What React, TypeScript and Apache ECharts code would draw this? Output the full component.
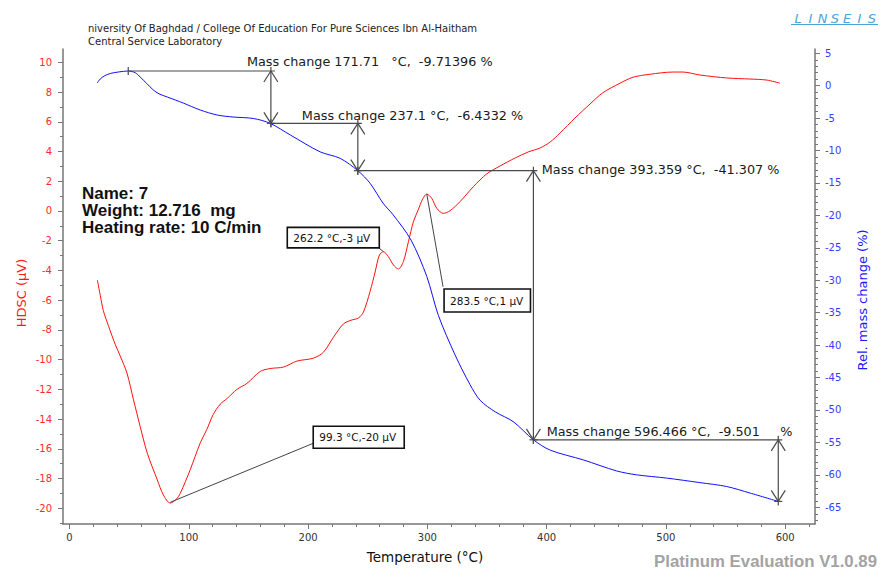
import React, { useEffect, useRef } from "react";
import * as echarts from "echarts";

// ---------- DATA ----------
const dscT = [23.3, 25.8, 28.3, 32.5, 38.4, 42.5, 48.1, 53.6, 59.2, 65.2, 73.6, 78.6, 84.4, 89.4, 92.8, 101.2, 109.6, 115.1, 120.4, 126.3, 132.3, 140.3, 148.7, 159.8, 168.2, 179.4, 190.6, 204.5, 212.9, 221.2, 229.6, 236, 242.2, 246.4, 252, 256.2, 259.8, 263.2, 267.3, 271.5, 275.7, 279.9, 284.1, 288.3, 292.3, 296, 299.5, 303.7, 307.9, 313.4, 319, 327.4, 338.6, 349.8, 361, 373.6, 384.5, 394.5, 402.9, 411.3, 423.8, 436.4, 447, 461.5, 472.4, 486.6, 505.9, 514.3, 528.5, 551.1, 570.4, 584.6, 595.5];
const dscV = [-4.64, -5.7, -6.7, -7.7, -9.0, -9.76, -10.9, -12.7, -14.5, -16.3, -18.1, -19.1, -19.65, -19.4, -19.0, -17.4, -15.6, -14.7, -13.7, -13.0, -12.6, -12.0, -11.6, -10.8, -10.6, -10.5, -10.1, -9.9, -9.5, -8.5, -7.6, -7.35, -7.2, -6.8, -5.4, -4.1, -2.96, -2.74, -3.07, -3.63, -3.9, -3.4, -2.07, -0.72, 0.07, 0.8, 1.14, 0.85, 0.18, -0.16, 0.02, 0.63, 1.64, 2.5, 3.03, 3.57, 3.97, 4.24, 4.64, 5.25, 6.26, 7.2, 7.95, 8.6, 9.0, 9.2, 9.35, 9.35, 9.15, 8.95, 8.88, 8.81, 8.6];

const massT = [23.2, 25.7, 29.1, 34.1, 40.8, 49.2, 55.1, 59.2, 64.7, 70.2, 75, 81.9, 95.3, 109.6, 123.8, 137.2, 154, 168.2, 185.1, 210.1, 226.9, 241.7, 252, 262.8, 271.3, 286.3, 299.5, 309.2, 323.2, 335.8, 344.2, 357, 372, 388.9, 403.1, 430.8, 458.7, 475.5, 500.6, 528.5, 550.9, 570.4, 594.2];
const massV = [0.42, 1.03, 1.5, 1.88, 2.11, 2.27, 2.0, 1.34, 0.35, -0.66, -1.25, -1.74, -2.67, -3.75, -4.52, -4.83, -5.05, -5.8, -7.6, -10.2, -11.2, -13.1, -15.05, -18.1, -19.9, -23.8, -29.4, -35.4, -41.5, -46.1, -48.5, -50.3, -51.8, -54.6, -56.2, -57.7, -59.4, -60.0, -60.5, -61.2, -61.8, -62.8, -64.1];

// mass-change step points (temperature, rel. mass)
const stepT = [49.2, 168.8, 241.7, 388.9, 594.2];
const stepM = [2.27, -5.8, -13.1, -54.6, -64.1];
const stepLabels = [
  "Mass change 171.71   °C,  -9.71396 %",
  "Mass change 237.1 °C,  -6.4332 %",
  "Mass change 393.359 °C,  -41.307 %",
  "Mass change 596.466 °C,  -9.501     %",
];

// DSC peak callouts
const peakT = [84.4, 263.2, 299.5];
const peakV = [-19.6, -2.74, 1.14];
const peakLabels = ["99.3 °C,-20 µV", "262.2 °C,-3 µV", "283.5 °C,1 µV"];

const sampleInfo = ["Name: 7", "Weight: 12.716  mg", "Heating rate: 10 C/min"];
const headerLines = [
  "niversity Of Baghdad / College Of Education For Pure Sciences Ibn Al-Haitham",
  "Central Service Laboratory",
];

const xMajorTicks = [0, 100, 200, 300, 400, 500, 600];
const xMinorTicks = [20, 40, 60, 80, 120, 140, 160, 180, 220, 240, 260, 280, 320, 340, 360, 380, 420, 440, 460, 480, 520, 540, 560, 580, 620];
const hdscMajorTicks = [-20, -18, -16, -14, -12, -10, -8, -6, -4, -2, 0, 2, 4, 6, 8, 10];
const hdscMinorTicks = [-21, -19, -17, -15, -13, -11, -9, -7, -5, -3, -1, 1, 3, 5, 7, 9];
const massMajorTicks = [-65, -60, -55, -50, -45, -40, -35, -30, -25, -20, -15, -10, -5, 0, 5];
const massMinorTicks = [-67, -66, -64, -63, -62, -61, -59, -58, -57, -56, -54, -53, -52, -51, -49, -48, -47, -46, -44, -43, -42, -41, -39, -38, -37, -36, -34, -33, -32, -31, -29, -28, -27, -26, -24, -23, -22, -21, -19, -18, -17, -16, -14, -13, -12, -11, -9, -8, -7, -6, -4, -3, -2, -1, 1, 2, 3, 4];

const xTitle = "Temperature (°C)";
const yLeftTitle = "HDSC (µV)";
const yRightTitle = "Rel. mass change (%)";
const footer = "Platinum Evaluation V1.0.89";
const logo = "LINSEIS";

// ---------- LAYOUT ----------
const X_MIN = -5.5, X_MAX = 625;
const L_MIN = -21.06, L_MAX = 10.9;
const R_MIN = -67.58, R_MAX = 5.66;
const FONT = "DejaVu Sans";
const AXIS_GRAY = "#767676";

// label offsets relative to the top of each vertical arrow (px)
const stepLabelOffsets = [[-24, -9], [-56, -8.3], [8.4, -0.7], [-231.6, -8.3]];
// callout boxes relative to anchor (px)
const calloutLayout = [
  { bx: 143, by: -76, bw: 91, bh: 22, lx: 143, ly: -59 },
  { bx: -96.2, by: -24.3, bw: 92, bh: 20.5, lx: -5.2, ly: -4.3 },
  { bx: 17.3, by: 95, bw: 86.4, bh: 23, lx: 16.3, ly: 92.7 },
];

export default function App() {
  const ref = useRef<HTMLDivElement>(null);

  useEffect(() => {
    if (!ref.current) return;
    const chart = echarts.init(ref.current, undefined, { renderer: "svg" });

    const dscData = dscT.map((t, i) => [t, dscV[i]]);
    const massData = massT.map((t, i) => [t, massV[i]]);
    const stepData = stepT.slice(1).map((t, i) => [stepT[i], stepM[i], t, stepM[i + 1], i]);
    const peakData = peakT.map((t, i) => [t, peakV[i], i]);

    const lineEl = (p: number[], q: number[], stroke: string, w: number) => ({
      type: "line",
      shape: { x1: p[0], y1: p[1], x2: q[0], y2: q[1] },
      style: { stroke, lineWidth: w },
    });

    const baseX = {
      type: "value",
      min: X_MIN,
      max: X_MAX,
      splitLine: { show: false },
      position: "bottom",
    };
    const axLine = (show: boolean) => ({
      show,
      onZero: false,
      lineStyle: { color: AXIS_GRAY, width: 1.5 },
    });

    const option: any = {
      animation: false,
      backgroundColor: "#ffffff",
      grid: { left: 63, right: 66, top: 49, bottom: 47, containLabel: false },
      xAxis: [
        {
          ...baseX,
          axisLine: axLine(true),
          axisTick: { show: true, customValues: xMajorTicks, length: 5, lineStyle: { color: AXIS_GRAY } },
          axisLabel: { customValues: xMajorTicks, color: "#333", fontSize: 10, fontFamily: FONT, margin: 8 },
        },
        {
          ...baseX,
          axisLine: axLine(false),
          axisTick: { show: true, customValues: xMinorTicks, length: 3, lineStyle: { color: AXIS_GRAY } },
          axisLabel: { show: false },
        },
      ],
      yAxis: [
        {
          type: "value", position: "left", min: L_MIN, max: L_MAX, splitLine: { show: false },
          axisLine: axLine(true),
          axisTick: { show: true, customValues: hdscMajorTicks, length: 5, lineStyle: { color: AXIS_GRAY } },
          axisLabel: { customValues: hdscMajorTicks, color: "#ff2b2b", fontSize: 10, fontFamily: FONT, margin: 11 },
        },
        {
          type: "value", position: "right", min: R_MIN, max: R_MAX, splitLine: { show: false },
          axisLine: axLine(true),
          axisTick: { show: true, customValues: massMajorTicks, length: 5, lineStyle: { color: AXIS_GRAY } },
          axisLabel: { customValues: massMajorTicks, color: "#3a3aff", fontSize: 10, fontFamily: FONT, margin: 10 },
        },
        {
          type: "value", position: "left", min: L_MIN, max: L_MAX, splitLine: { show: false },
          axisLine: axLine(false),
          axisTick: { show: true, customValues: hdscMinorTicks, length: 3, lineStyle: { color: AXIS_GRAY } },
          axisLabel: { show: false },
        },
        {
          type: "value", position: "right", min: R_MIN, max: R_MAX, splitLine: { show: false },
          axisLine: axLine(false),
          axisTick: { show: true, customValues: massMinorTicks, length: 3, lineStyle: { color: AXIS_GRAY } },
          axisLabel: { show: false },
        },
      ],
      series: [
        {
          name: "HDSC",
          type: "line",
          xAxisIndex: 0,
          yAxisIndex: 0,
          data: dscData,
          smooth: 0.3,
          showSymbol: false,
          lineStyle: { color: "#ff1010", width: 1 },
          z: 2,
        },
        {
          name: "Rel. mass change",
          type: "line",
          xAxisIndex: 0,
          yAxisIndex: 1,
          data: massData,
          smooth: 0.3,
          showSymbol: false,
          lineStyle: { color: "#1010ff", width: 1 },
          z: 3,
        },
        {
          name: "mass steps",
          type: "custom",
          xAxisIndex: 0,
          yAxisIndex: 1,
          data: stepData,
          encode: { x: [0, 2], y: [1, 3] },
          clip: false,
          z: 5,
          renderItem: (params: any, api: any) => {
            const idx = api.value(4);
            const a = api.coord([api.value(0), api.value(1)]);
            const top = api.coord([api.value(2), api.value(1)]);
            const bot = api.coord([api.value(2), api.value(3)]);
            const c = "#4a4a4a";
            const w = 1.2;
            const off = stepLabelOffsets[idx];
            return {
              type: "group",
              children: [
                lineEl(a, [top[0] + 4, top[1]], c, w),
                lineEl([a[0], a[1] - 4], [a[0], a[1] + 4], c, w),
                lineEl([top[0], top[1] - 4], [bot[0], bot[1] + 4], c, w),
                lineEl(top, [top[0] - 7, top[1] + 11], c, w),
                lineEl(top, [top[0] + 7, top[1] + 11], c, w),
                lineEl(bot, [bot[0] - 7, bot[1] - 11], c, w),
                lineEl(bot, [bot[0] + 7, bot[1] - 11], c, w),
                lineEl([bot[0] - 4, bot[1]], [bot[0] + 4, bot[1]], c, w),
                {
                  type: "text",
                  x: top[0] + off[0],
                  y: top[1] + off[1],
                  style: {
                    text: stepLabels[idx],
                    fill: "#1a1a1a",
                    fontSize: 12.8,
                    fontFamily: FONT,
                    align: "left",
                    verticalAlign: "middle",
                  },
                },
              ],
            };
          },
        },
        {
          name: "peaks",
          type: "custom",
          xAxisIndex: 0,
          yAxisIndex: 0,
          data: peakData,
          encode: { x: 0, y: 1 },
          clip: false,
          z: 6,
          renderItem: (params: any, api: any) => {
            const idx = api.value(2);
            const p = api.coord([api.value(0), api.value(1)]);
            const L = calloutLayout[idx];
            return {
              type: "group",
              children: [
                lineEl(p, [p[0] + L.lx, p[1] + L.ly], "#444", 1),
                {
                  type: "rect",
                  shape: { x: p[0] + L.bx, y: p[1] + L.by, width: L.bw, height: L.bh },
                  style: { fill: "#ffffff", stroke: "#111", lineWidth: 1.6 },
                },
                {
                  type: "text",
                  x: p[0] + L.bx + 6,
                  y: p[1] + L.by + L.bh / 2,
                  style: {
                    text: peakLabels[idx],
                    fill: "#111",
                    fontSize: 10.5,
                    fontFamily: FONT,
                    align: "left",
                    verticalAlign: "middle",
                  },
                },
              ],
            };
          },
        },
      ],
      graphic: [
        ...headerLines.map((t, i) => ({
          type: "text",
          left: 88,
          top: 23 + i * 13,
          style: { text: t, fill: "#222", fontSize: 10, fontFamily: FONT },
        })),
        ...sampleInfo.map((t, i) => ({
          type: "text",
          x: 82,
          y: 193 + i * 17.4,
          style: {
            text: t,
            fill: "#111",
            fontSize: 17,
            fontWeight: "bold",
            fontFamily: "Liberation Sans, Arial",
            align: "left",
            verticalAlign: "middle",
          },
        })),
        {
          type: "text",
          x: 425,
          y: 557,
          style: { text: xTitle, fill: "#111", fontSize: 13.5, fontFamily: FONT, align: "center", verticalAlign: "middle" },
        },
        {
          type: "text",
          x: 21.5,
          y: 293,
          rotation: Math.PI / 2,
          style: { text: yLeftTitle, fill: "#ff1a1a", fontSize: 13, fontFamily: FONT, align: "center", verticalAlign: "middle" },
        },
        {
          type: "text",
          x: 862.5,
          y: 300,
          rotation: Math.PI / 2,
          style: { text: yRightTitle, fill: "#1a1aff", fontSize: 13, fontFamily: FONT, align: "center", verticalAlign: "middle" },
        },
        {
          type: "text",
          x: 877,
          y: 561,
          style: {
            text: footer,
            fill: "#a3a3a3",
            fontSize: 16.8,
            fontWeight: "bold",
            fontFamily: "Liberation Sans, Arial",
            align: "right",
            verticalAlign: "middle",
          },
        },
        ...logo.split("").map((ch, i) => ({
          type: "text",
          x: 798 + i * 12.3,
          y: 18,
          style: {
            text: ch,
            fill: "#4aa6d8",
            fontSize: 13,
            fontStyle: "italic",
            fontFamily: FONT,
            align: "center",
            verticalAlign: "middle",
          },
        })),
        {
          type: "line",
          shape: { x1: 791, y1: 24.5, x2: 878, y2: 24.5 },
          style: { stroke: "#4aa6d8", lineWidth: 1 },
        },
      ],
    };

    chart.setOption(option);
    return () => chart.dispose();
  }, []);

  return (
    <div
      ref={ref}
      style={{ position: "fixed", left: 0, top: 0, width: 881, height: 571, background: "#fff" }}
    />
  );
}
